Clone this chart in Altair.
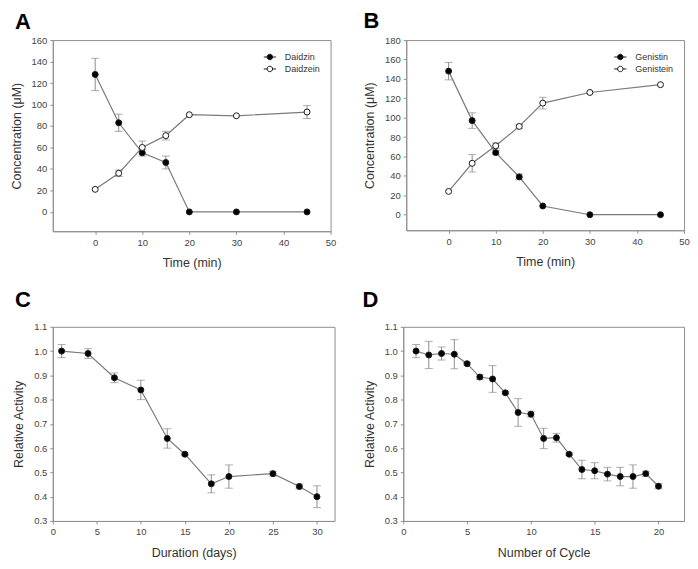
import altair as alt
import pandas as pd

FONT = "Liberation Sans"

# ---------------- data ----------------
time_ab = [0, 5, 10, 15, 20, 30, 45]
daidzin = [128, 83, 55, 46, 0, 0, 0]
daidzin_err = [15, 8, 3, 6, 0, 0, 0]
daidzein = [21, 36, 60, 71, 90.5, 89.5, 93]
daidzein_err = [0, 3, 6, 4, 0, 0, 6]

genistin = [148, 97, 64, 39, 9, 0, 0]
genistin_err = [9, 8, 2, 3, 0, 0, 0]
genistein = [24, 53, 71, 91, 115, 126, 134]
genistein_err = [0, 9, 3, 2, 6, 0, 0]

duration_days = [1, 4, 7, 10, 13, 15, 18, 20, 25, 28, 30]
activity_c = [1.00, 0.99, 0.89, 0.84, 0.64, 0.575, 0.453, 0.483, 0.495, 0.442, 0.40]
activity_c_err = [0.027, 0.02, 0.02, 0.04, 0.04, 0.005, 0.037, 0.048, 0.01, 0.01, 0.045]

cycles = list(range(1, 21))
activity_d = [1.00, 0.984, 0.99, 0.987, 0.948, 0.893, 0.885, 0.828, 0.747, 0.740,
              0.640, 0.643, 0.575, 0.512, 0.507, 0.493, 0.483, 0.483, 0.495, 0.443]
activity_d_err = [0.027, 0.056, 0.027, 0.06, 0.005, 0.01, 0.055, 0.005, 0.057, 0.012,
                  0.042, 0.018, 0.005, 0.038, 0.033, 0.028, 0.038, 0.048, 0.01, 0.01]

LINE_COLOR = "#7a7a7a"
ERR_COLOR = "#8c8c8c"
PT_STROKE = "#1a1a1a"

LEGEND_PATH = ("M-1,0L-0.45,0M0.45,0L1,0M-0.45,0A0.45,0.45,0,1,1,0.45,0"
               "A0.45,0.45,0,1,1,-0.45,0Z")


def build_df(x, series):
    rows = []
    for name, vals, errs in series:
        for xi, v, e in zip(x, vals, errs):
            rows.append({"x": xi, "y": v, "err": e, "lo": v - e, "hi": v + e, "series": name})
    return pd.DataFrame(rows)


def panel(df, order, fills, xdom, ydom, xticks, yticks, xtitle, ytitle, yfmt,
          letter, ldx, ldy, w, h, legend):
    xs = alt.Scale(domain=xdom, nice=False, zero=False)
    ys = alt.Scale(domain=ydom, nice=False, zero=False)
    xax = alt.Axis(values=xticks, title=xtitle, format="d", labelOverlap=False, labelFlush=False)
    yax = alt.Axis(values=yticks, title=ytitle, format=yfmt, labelOverlap=False, labelFlush=False)

    def X(f):
        return alt.X(f, type="quantitative", scale=xs, axis=xax)

    def Y(f):
        return alt.Y(f, type="quantitative", scale=ys, axis=yax)

    base = alt.Chart(df)
    edf = df[df["err"] > 0]
    ebase = alt.Chart(edf)
    rule = ebase.mark_rule(color=ERR_COLOR, strokeWidth=1).encode(
        x=X("x"), y=Y("lo"), y2="hi:Q")
    cap_lo = ebase.mark_tick(orient="horizontal", size=8, thickness=1, color=ERR_COLOR).encode(
        x=X("x"), y=Y("lo"))
    cap_hi = ebase.mark_tick(orient="horizontal", size=8, thickness=1, color=ERR_COLOR).encode(
        x=X("x"), y=Y("hi"))
    line = base.mark_line(color=LINE_COLOR, strokeWidth=1.2).encode(
        x=X("x"), y=Y("y"), detail="series:N")
    if legend:
        leg = alt.Legend(title=None, orient="top-right", offset=10, symbolType=LEGEND_PATH,
                         symbolSize=150, symbolStrokeColor=PT_STROKE, symbolStrokeWidth=1,
                         labelFontSize=9, labelColor="#333", labelFont=FONT,
                         rowPadding=0, symbolOffset=0, labelOffset=8, padding=0)
    else:
        leg = None
    fill_enc = alt.Fill("series:N", scale=alt.Scale(domain=order, range=fills),
                        sort=order, legend=leg)
    pts = base.mark_circle(size=36, stroke=PT_STROKE, strokeWidth=1, opacity=1).encode(
        x=X("x"), y=Y("y"), fill=fill_enc)
    lab = alt.Chart(pd.DataFrame({"t": [letter]})).mark_text(
        font=FONT, fontSize=22, fontWeight="bold", align="left", baseline="alphabetic",
        color="#000").encode(text="t:N", x=alt.value(ldx), y=alt.value(ldy))
    return alt.layer(rule, cap_lo, cap_hi, line, pts, lab).properties(width=w, height=h)


df_a = build_df(time_ab, [("Daidzin", daidzin, daidzin_err), ("Daidzein", daidzein, daidzein_err)])
df_b = build_df(time_ab, [("Genistin", genistin, genistin_err), ("Genistein", genistein, genistein_err)])
df_c = build_df(duration_days, [("Activity", activity_c, activity_c_err)])
df_d = build_df(cycles, [("Activity", activity_d, activity_d_err)])

pa = panel(df_a, ["Daidzin", "Daidzein"], ["#000000", "#ffffff"], [-9, 50], [-18, 160],
           [0, 10, 20, 30, 40, 50], list(range(0, 161, 20)), "Time (min)",
           "Concentration (\u03bcM)", "d", "A", -38, -11, 279, 192, True)
pb = panel(df_b, ["Genistin", "Genistein"], ["#000000", "#ffffff"], [-9, 50], [-16, 180],
           [0, 10, 20, 30, 40, 50], list(range(0, 181, 20)), "Time (min)",
           "Concentration (\u03bcM)", "d", "B", -43, -12, 279, 191, True)
pc = panel(df_c, ["Activity"], ["#000000"], [0, 32], [0.3, 1.1],
           [0, 5, 10, 15, 20, 25, 30], [0.3, 0.4, 0.5, 0.6, 0.7, 0.8, 0.9, 1.0, 1.1],
           "Duration (days)", "Relative Activity", ".1f", "C", -38, -20, 283, 195, False)
pd_ = panel(df_d, ["Activity"], ["#000000"], [0, 22], [0.3, 1.1],
            [0, 5, 10, 15, 20], [0.3, 0.4, 0.5, 0.6, 0.7, 0.8, 0.9, 1.0, 1.1],
            "Number of Cycle", "Relative Activity", ".1f", "D", -41, -20, 282, 195, False)

top = alt.hconcat(pa, pb, spacing=26).resolve_scale(fill="independent")
bottom = alt.hconcat(pc, pd_, spacing=26).resolve_scale(fill="independent")

chart = alt.vconcat(top, bottom, spacing=18).resolve_scale(fill="independent").configure(
    padding={"left": 1, "top": 0, "right": 0, "bottom": 0},
    background="white",
).configure_view(
    stroke="#8f8f8f", strokeWidth=1
).configure_axis(
    grid=False, domainColor="#8f8f8f", tickColor="#8f8f8f", tickSize=3,
    labelFont=FONT, labelFontSize=9.5, labelColor="#444", labelPadding=3,
    titleFont=FONT, titleFontSize=12.5, titleFontWeight="normal", titleColor="#333",
).configure_axisY(titlePadding=8).configure_axisX(titlePadding=10)

chart.save("out.html", embed_options={"renderer": "svg", "actions": False})
